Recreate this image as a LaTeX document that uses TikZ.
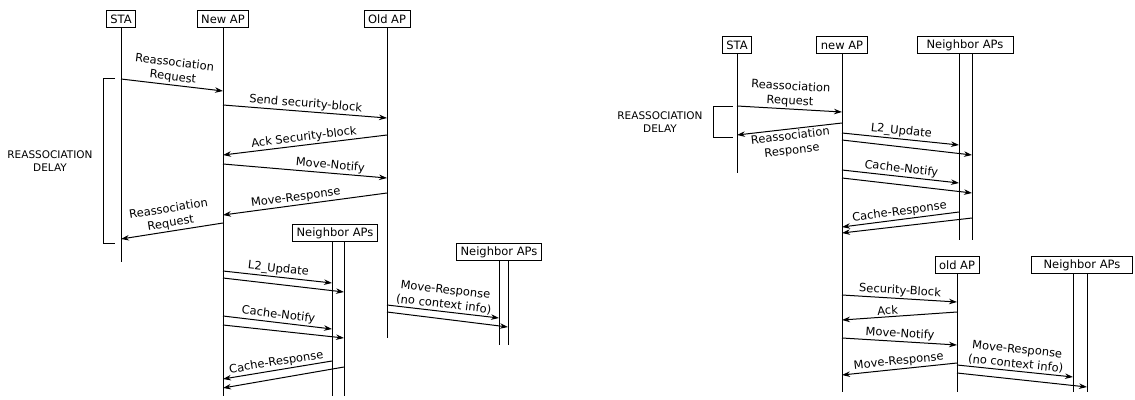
\documentclass[tikz,border=0pt]{standalone}
\usepackage{fontspec}
\setmainfont{DejaVu Sans}
\usetikzlibrary{positioning, arrows.meta, calc}

\tikzset{
  actor/.style={draw, line width=1pt, minimum height=17pt, inner xsep=4pt, inner ysep=1pt, font=\fontsize{11.5}{13}\selectfont},
  life/.style={line width=1pt},
  msg/.style={line width=1pt, -{Stealth[length=8pt, width=5.5pt]}},
  lbl/.style={sloped, align=center, inner sep=1.5pt, font=\fontsize{11.5}{14.5}\selectfont},
  delay/.style={align=center, font=\fontsize{10.5}{13}\selectfont}
}

\begin{document}
\begin{tikzpicture}[x=1pt, y=-1pt]
\useasboundingbox (0,0) rectangle (1135,399);

% left: handover with old AP
\node[actor] (sta) at (121,19) {STA};
\node[actor] (nap) at (223,19) {New AP};
\node[actor] (oap) at (387,19) {Old AP};
\node[actor, minimum width=84pt] (nb1) at (335,233) {Neighbor APs};
\node[actor, minimum width=82pt] (nb2) at (499,252) {Neighbor APs};

\coordinate (nb1a) at (nb1.south -| 332,0);
\coordinate (nb1b) at (nb1.south -| 344,0);
\coordinate (nb2a) at (nb2.south -| 499,0);
\coordinate (nb2b) at (nb2.south -| 508,0);

\draw[life] (sta.south) -- (sta |- 0,262);
\draw[life] (nap.south) -- (nap |- 0,396);
\draw[life] (oap.south) -- (oap |- 0,338);
\draw[life] (nb1a) -- (nb1a |- 0,396);
\draw[life] (nb1b) -- (nb1b |- 0,396);
\draw[life] (nb2a) -- (nb2a |- 0,345);
\draw[life] (nb2b) -- (nb2b |- 0,345);

\draw[msg] (sta |- 0,79) -- (nap |- 0,91) node[lbl, midway, above] {Reassociation\\Request};
\draw[msg] (nap |- 0,105) -- (oap |- 0,118) node[lbl, midway, above] {Send security-block};
\draw[msg] (oap |- 0,135) -- (nap |- 0,155) node[lbl, midway, above] {Ack Security-block};
\draw[msg] (nap |- 0,164) -- (oap |- 0,178) node[lbl, pos=0.65, above] {Move-Notify};
\draw[msg] (oap |- 0,193) -- (nap |- 0,215) node[lbl, pos=0.55, above] {Move-Response};
\draw[msg] (nap |- 0,223) -- (sta |- 0,239) node[lbl, midway, above] {Reassociation\\Request};

\draw[msg] (nap |- 0,271) -- (nb1a |- 0,283) node[lbl, midway, above] {L2\_Update};
\draw[msg] (nap |- 0,278) -- (nb1b |- 0,292);
\draw[msg] (nap |- 0,316) -- (nb1a |- 0,329) node[lbl, midway, above] {Cache-Notify};
\draw[msg] (nap |- 0,325) -- (nb1b |- 0,338);
\draw[msg] (nb1a |- 0,361) -- (nap |- 0,379) node[lbl, midway, above] {Cache-Response};
\draw[msg] (nb1b |- 0,367) -- (nap |- 0,388);

\draw[msg] (oap |- 0,305) -- (nb2a |- 0,318) node[lbl, midway, above] {Move-Response\\(no context info)};
\draw[msg] (oap |- 0,312) -- (nb2b |- 0,327);

\draw[life] (115,78) -- (103,78) -- (103,243) -- (115,243);
\node[delay] (delay1) at (50,161) {REASSOCIATION\\DELAY};

% right: handover with neighbor caching
\node[actor] (sta2) at (737,45) {STA};
\node[actor] (nap2) at (842,45) {new AP};
\node[actor, minimum width=96pt] (nb3) at (965,45) {Neighbor APs};
\node[actor] (oap2) at (957,265) {old AP};
\node[actor, minimum width=101pt] (nb4) at (1082,265) {Neighbor APs};

\coordinate (nb3a) at (nb3.south -| 959,0);
\coordinate (nb3b) at (nb3.south -| 972,0);
\coordinate (nb4a) at (nb4.south -| 1073,0);
\coordinate (nb4b) at (nb4.south -| 1087,0);

\draw[life] (sta2.south) -- (sta2 |- 0,173);
\draw[life] (nap2.south) -- (nap2 |- 0,392);
\draw[life] (nb3a) -- (nb3a |- 0,240);
\draw[life] (nb3b) -- (nb3b |- 0,240);
\draw[life] (oap2.south) -- (oap2 |- 0,392);
\draw[life] (nb4a) -- (nb4a |- 0,392);
\draw[life] (nb4b) -- (nb4b |- 0,392);

\draw[msg] (sta2 |- 0,106) -- (nap2 |- 0,112) node[lbl, midway, above] {Reassociation\\Request};
\draw[msg] (nap2 |- 0,123) -- (sta2 |- 0,135) node[lbl, midway, below] {Reassociation\\Response};

\draw[msg] (nap2 |- 0,133) -- (nb3a |- 0,145) node[lbl, midway, above] {L2\_Update};
\draw[msg] (nap2 |- 0,140) -- (nb3b |- 0,155);
\draw[msg] (nap2 |- 0,170) -- (nb3a |- 0,183) node[lbl, midway, above] {Cache-Notify};
\draw[msg] (nap2 |- 0,178) -- (nb3b |- 0,193);
\draw[msg] (nb3a |- 0,212) -- (nap2 |- 0,227) node[lbl, midway, above] {Cache-Response};
\draw[msg] (nb3b |- 0,218) -- (nap2 |- 0,233);

\draw[msg] (nap2 |- 0,295) -- (oap2 |- 0,302) node[lbl, midway, above] {Security-Block};
\draw[msg] (oap2 |- 0,312) -- (nap2 |- 0,320) node[lbl, pos=0.6, above] {Ack};
\draw[msg] (nap2 |- 0,338) -- (oap2 |- 0,345) node[lbl, midway, above] {Move-Notify};
\draw[msg] (oap2 |- 0,363) -- (nap2 |- 0,375) node[lbl, midway, above] {Move-Response};
\draw[msg] (oap2 |- 0,365) -- (nb4a |- 0,377) node[lbl, midway, above] {Move-Response\\(no context info)};
\draw[msg] (oap2 |- 0,373) -- (nb4b |- 0,387);

\draw[life] (733,106) -- (713,106) -- (713,137) -- (733,137);
\node[delay] (delay2) at (660,122) {REASSOCIATION\\DELAY};
\end{tikzpicture}
\end{document}
